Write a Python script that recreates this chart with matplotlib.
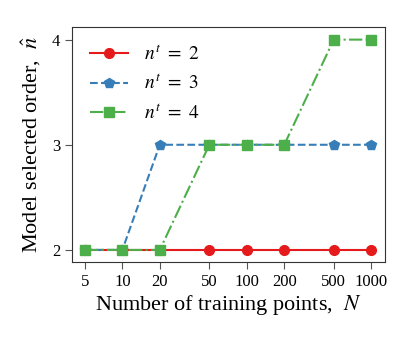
import matplotlib
matplotlib.use("Agg")
import matplotlib.pyplot as plt

plt.rcParams['font.family'] = ['Liberation Serif', 'DejaVu Serif']
plt.rcParams['mathtext.fontset'] = 'stix'

N = [5, 10, 20, 50, 100, 200, 500, 1000]
order_nt2 = [2, 2, 2, 2, 2, 2, 2, 2]
order_nt3 = [2, 2, 3, 3, 3, 3, 3, 3]
order_nt4 = [2, 2, 2, 3, 3, 3, 4, 4]

fig = plt.figure(figsize=(4.15, 3.38), dpi=100)
ax = fig.add_axes([72 / 415, (338 - 262) / 338, (385 - 72) / 415, (262 - 27) / 338])

ax.plot(N, order_nt2, marker='o', markersize=7, linestyle='-', color='#e41a1c', lw=1.5, label=r'$n^t\ =\ 2$')
ax.plot(N, order_nt3, marker='p', markersize=7, linestyle='--', color='#377eb8', lw=1.5, label=r'$n^t\ =\ 3$')
ax.plot(N, order_nt4, marker='s', markersize=7, linestyle='-.', color='#4daf4a', lw=1.5, label=r'$n^t\ =\ 4$')

ax.set_xscale('log')
ax.set_xticks(N)
ax.set_xticklabels([str(n) for n in N])
ax.minorticks_off()
ax.set_xlim(3.94, 1290)
ax.set_yticks([2, 3, 4])
ax.set_ylim(1.885, 4.12)
ax.tick_params(labelsize=12, color='#555555', length=5)
for s in ax.spines.values():
    s.set_color('#333333')

ax.set_xlabel(r'Number of training points,  $N$', fontsize=16, labelpad=2)
ax.set_ylabel(r'Model selected order,  $\hat{n}$', fontsize=16, labelpad=6)
ax.legend(loc='upper left', frameon=False, fontsize=14, handlelength=2.0, borderaxespad=0.5)

fig.savefig('out.png', dpi=100)
